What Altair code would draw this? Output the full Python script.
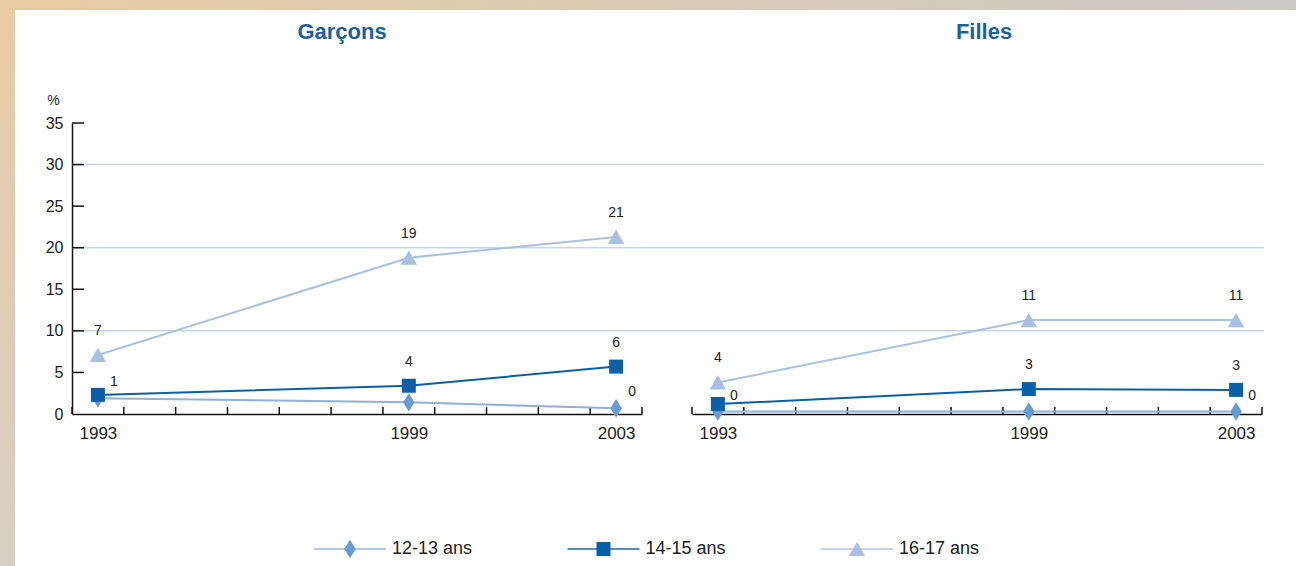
import altair as alt
import pandas as pd

# ---------------- data ----------------
years = [1993, 1999, 2003]
series_names = ["12-13 ans", "14-15 ans", "16-17 ans"]

garcons_12 = [1.9, 1.4, 0.7]
garcons_14 = [2.3, 3.4, 5.7]
garcons_16 = [7.1, 18.8, 21.3]
garcons_12_labels = ["1", None, "0"]
garcons_14_labels = [None, "4", "6"]
garcons_16_labels = ["7", "19", "21"]

filles_12 = [0.3, 0.3, 0.3]
filles_14 = [1.2, 3.0, 2.9]
filles_16 = [3.8, 11.3, 11.3]
filles_12_labels = ["0", None, "0"]
filles_14_labels = [None, "3", "3"]
filles_16_labels = ["4", "11", "11"]

x_label_years = [1993, 1999, 2003]
x_tick_positions = [1992.5 + i for i in range(12)]
y_label_values = [0, 5, 10, 15, 20, 25, 30, 35]
y_tick_values = [5, 10, 15, 20, 25, 30, 35]
grid_values = [10, 20, 30]

# ---------------- styles ----------------
FONT = "Liberation Sans"
line_colors = ["#8fb0dc", "#0a5fa6", "#a9c0e2"]
point_colors = ["#6b9bd3", "#0a5fa6", "#a9c0e2"]
diamond = "M0,-1L0.62,0L0,1L-0.62,0Z"
point_shapes = [diamond, "square", "triangle-up"]
point_sizes = [340, 196, 270]
grid_col = "#c5d5ec"
axis_col = "#111111"
text_col = "#222222"
W, H, GAP = 570, 291, 50

rows = []
for sex, vals, labs in [
    ("Garçons", [garcons_12, garcons_14, garcons_16],
     [garcons_12_labels, garcons_14_labels, garcons_16_labels]),
    ("Filles", [filles_12, filles_14, filles_16],
     [filles_12_labels, filles_14_labels, filles_16_labels]),
]:
    for s, v, l in zip(series_names, vals, labs):
        for yr, val, lab in zip(years, v, l):
            rows.append({"sex": sex, "series": s, "year": yr, "value": val, "label": lab})
df = pd.DataFrame(rows)
leg_df = pd.DataFrame({"series": series_names})


def legend_layer():
    LX = alt.X("series:N",
               scale=alt.Scale(type="point", domain=series_names, range=[278, 785], padding=0),
               axis=None)
    ly = alt.value(H + 135)
    out = [
        alt.Chart(leg_df).mark_tick(orient="horizontal", size=72, thickness=2).encode(
            x=LX, y=ly,
            color=alt.Color("series:N", scale=alt.Scale(domain=series_names, range=line_colors), legend=None),
        )
    ]
    for s, c, shp, sz in zip(series_names, point_colors, point_shapes, point_sizes):
        out.append(
            alt.Chart(leg_df).transform_filter(alt.datum.series == s).mark_point(
                shape=shp, size=sz, filled=True, color=c, opacity=1, strokeWidth=0
            ).encode(x=LX, y=ly)
        )
    out.append(
        alt.Chart(leg_df).mark_text(align="left", baseline="middle", dx=42, fontSize=18,
                                    color=text_col).encode(x=LX, y=ly, text="series:N")
    )
    return alt.layer(*out)


def panel(sex, first, title_offset, title_dx, grid_x2):
    d = df[df.sex == sex]
    xscale = alt.Scale(domain=[1992.5, 2003.5], nice=False, zero=False)
    yscale = alt.Scale(domain=[0, 35], nice=False, zero=True)
    xaxis = alt.Axis(values=x_label_years, format="d", ticks=False, grid=False,
                     domainColor=axis_col, domainWidth=1.5, labelPadding=11,
                     title=None, labelFontSize=17, labelColor=text_col,
                     labelFlush=False)
    if first:
        yaxis = alt.Axis(values=y_label_values, ticks=False, grid=False,
                         domainColor=axis_col, domainWidth=1.5, labelPadding=9,
                         labelFontSize=16, labelColor=text_col,
                         title="%", titleAngle=0, titleX=-19, titleY=-23,
                         titleAlign="center", titleBaseline="middle",
                         titleFontWeight="normal", titleFontSize=14,
                         titleColor=text_col)
    else:
        yaxis = None
    X = alt.X("year:Q", scale=xscale, axis=xaxis)
    Y = alt.Y("value:Q", scale=yscale, axis=yaxis)

    layers = []
    if first:
        frame_df = pd.DataFrame({"k": [0]})
        top_band = alt.Chart(frame_df).mark_rect(
            color=alt.Gradient(gradient="linear",
                               stops=[alt.GradientStop(color="#e7cba3", offset=0),
                                      alt.GradientStop(color="#cdcac6", offset=1)],
                               x1=0, x2=1, y1=0, y2=0)
        ).encode(x=alt.value(-72), x2=alt.value(1224), y=alt.value(-123), y2=alt.value(-113))
        left_band = alt.Chart(frame_df).mark_rect(
            color=alt.Gradient(gradient="linear",
                               stops=[alt.GradientStop(color="#e7cba3", offset=0),
                                      alt.GradientStop(color="#d8cfc4", offset=1)],
                               x1=0, x2=0, y1=0, y2=1)
        ).encode(x=alt.value(-72), x2=alt.value(-57), y=alt.value(-123), y2=alt.value(443))
        layers += [top_band, left_band]

    grid = alt.Chart(pd.DataFrame({"value": grid_values})).mark_rule(
        color=grid_col, strokeWidth=1.5
    ).encode(y=Y, x=alt.value(0), x2=alt.value(grid_x2))
    layers.append(grid)

    if first:
        yt = alt.Chart(pd.DataFrame({"value": y_tick_values})).mark_rule(
            color=axis_col, strokeWidth=1.5
        ).encode(y=Y, x=alt.value(0), x2=alt.value(12))
        layers.append(yt)

    xt = alt.Chart(pd.DataFrame({"year": x_tick_positions})).mark_rule(
        color=axis_col, strokeWidth=1.5
    ).encode(x=X, y=alt.value(H - 7), y2=alt.value(H))
    layers.append(xt)

    lines = alt.Chart(d).mark_line(strokeWidth=2).encode(
        x=X, y=Y,
        color=alt.Color("series:N", scale=alt.Scale(domain=series_names, range=line_colors), legend=None),
        order="year:Q",
    )
    layers.append(lines)

    for s, c, shp, sz in zip(series_names, point_colors, point_shapes, point_sizes):
        pts = alt.Chart(d).transform_filter(alt.datum.series == s).mark_point(
            shape=shp, size=sz, filled=True, color=c, opacity=1, strokeWidth=0
        ).encode(x=X, y=Y)
        layers.append(pts)

    lab_a = alt.Chart(d).transform_filter(
        "datum.label != null && datum.series == '12-13 ans'"
    ).mark_text(dx=16, dy=-16, fontSize=14, color=text_col).encode(x=X, y=Y, text="label:N")
    lab_b = alt.Chart(d).transform_filter(
        "datum.label != null && datum.series != '12-13 ans'"
    ).mark_text(dy=-24, fontSize=14, color=text_col).encode(x=X, y=Y, text="label:N")
    layers += [lab_a, lab_b]

    ch = alt.layer(*layers)
    if first:
        ch = alt.layer(ch, legend_layer()).resolve_scale(x="independent")
    return ch.properties(
        width=W, height=H,
        title=alt.TitleParams(sex, fontSize=22, fontWeight="bold", color="#1f5f9e",
                              offset=title_offset, frame="group", anchor="middle",
                              dx=title_dx),
    )


g_panel = panel("Garçons", True, -44, -15, W + GAP)
f_panel = panel("Filles", False, 79, 7, W + 2)

chart = alt.hconcat(g_panel, f_panel, spacing=GAP, bounds="flush").properties(
    padding=0,
    autosize=alt.AutoSizeParams(type="pad"),
    background="white",
).configure(font=FONT).configure_view(strokeWidth=0, stroke=None)

chart.save("out.html", embed_options={"renderer": "svg", "actions": False})
